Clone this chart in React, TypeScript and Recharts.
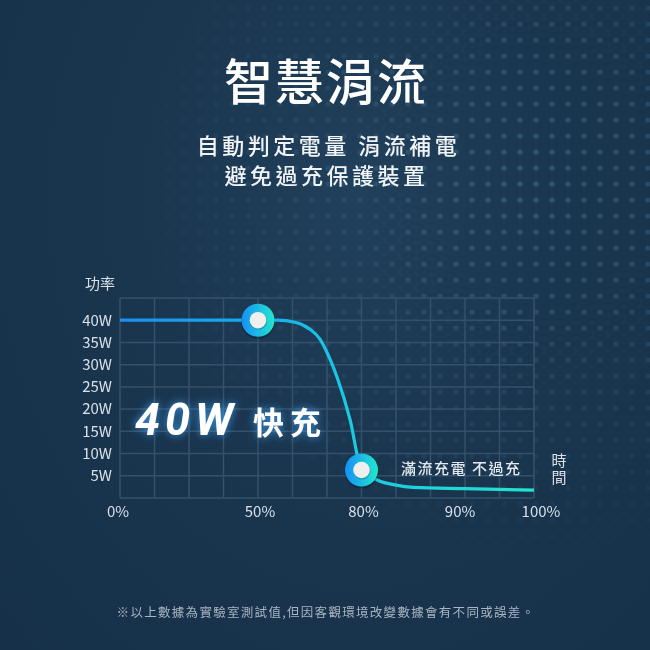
import React from 'react';
import { ComposedChart, Line, Scatter, XAxis, YAxis, CartesianGrid } from 'recharts';

// power curve (x = grid column, 0..12 ; y = watts)
const curveX = [0, 4, 4.55, 5.1, 5.5, 5.8, 6.1, 6.3, 6.67, 7, 7.47, 8, 8.5, 10, 12];
const curveW = [40, 40, 40, 39.5, 38, 35.7, 31, 27, 17.6, 6.3, 4, 2.9, 2.4, 2.1, 1.75];

// highlighted points (50% and 80%)
const markerX = [4, 7];
const markerW = [40, 6.3];

// axis ticks
const xTickPos = [0, 4, 7, 9.8, 12];
const xTickLabels = ['0%', '50%', '80%', '90%', '100%'];
const yTicks = [5, 10, 15, 20, 25, 30, 35, 40];
const gridCols = [0, 1, 2, 3, 4, 5, 6, 7, 8, 9, 10, 11, 12];
const gridRows = [0, 5, 10, 15, 20, 25, 30, 35, 40, 45];

const X_MAX = 12;
const Y_MAX = 45;

const curveData = curveX.map((x, i) => ({ x, y: curveW[i] }));
const markerData = markerX.map((x, i) => ({ x, y: markerW[i] }));

const CJK = "'Noto Sans CJK TC', 'Noto Sans', sans-serif";

const Marker = (props: any) => {
  const { cx, cy } = props;
  return (
    <g>
      <circle cx={cx} cy={cy + 1.5} r={17} fill="rgba(0,0,0,0.25)" />
      <circle cx={cx} cy={cy} r={16.5} fill="url(#dotGrad)" />
      <circle cx={cx + 0.5} cy={cy + 1} r={8.6} fill="rgba(0,0,0,0.18)" />
      <circle cx={cx} cy={cy} r={8.3} fill="#efefef" />
    </g>
  );
};

const XTick = (props: any) => {
  const { x, y, payload, index } = props;
  // last label sits a bit past the frame in the original
  const nudge = index === xTickLabels.length - 1 ? 7 : index === 0 ? -2 : 2;
  const i = xTickPos.indexOf(payload.value);
  return (
    <text x={x + nudge} y={y} dy="0.71em" textAnchor="middle" fill="#d8e0e8" fontSize={15} fontFamily={CJK}>
      {xTickLabels[i]}
    </text>
  );
};

const colCoords = ({ xAxis, offset }: any) =>
  gridCols.map((v) =>
    xAxis && typeof xAxis.scale === 'function'
      ? xAxis.scale(v)
      : offset.left + (v / X_MAX) * offset.width
  );

const rowCoords = ({ yAxis, offset }: any) =>
  gridRows.map((v) =>
    yAxis && typeof yAxis.scale === 'function'
      ? yAxis.scale(v)
      : offset.top + offset.height - (v / Y_MAX) * offset.height
  );

export default function App() {
  return (
    <div style={{
      position: 'fixed',
      top: 0,
      left: 0,
      width: 650,
      height: 650,
      overflow: 'hidden',
      background: 'radial-gradient(ellipse at 55% 30%, #21405b 0%, #1a354e 45%, #16304a 100%)'
    }}>
      {/* dotted background */}
      <svg width={650} height={650} style={{ position: 'absolute', top: 0, left: 0 }}>
        <defs>
          <pattern id="dots" width={16} height={16} patternUnits="userSpaceOnUse">
            <circle cx={8} cy={8} r={2.6} fill="#3a6688" />
          </pattern>
          <radialGradient id="fade" cx="0.8" cy="0.28" r="0.62">
            <stop offset="0%" stopColor="#fff" stopOpacity={0.7} />
            <stop offset="55%" stopColor="#fff" stopOpacity={0.3} />
            <stop offset="100%" stopColor="#fff" stopOpacity={0} />
          </radialGradient>
          <mask id="dotMask">
            <rect width={650} height={650} fill="url(#fade)" />
          </mask>
        </defs>
        <rect width={650} height={650} fill="url(#dots)" mask="url(#dotMask)" />
      </svg>

      <div style={{ position: 'absolute', top: 0, left: 0 }}>
        <ComposedChart
          width={650}
          height={650}
          margin={{ top: 298, right: 116, bottom: 122, left: 80 }}
        >
          <defs>
            <linearGradient id="lineGrad" x1="0" y1="0" x2="1" y2="0">
              <stop offset="0%" stopColor="#1b8ef0" />
              <stop offset="35%" stopColor="#15b0ec" />
              <stop offset="55%" stopColor="#1bc9e2" />
              <stop offset="100%" stopColor="#22e3cf" />
            </linearGradient>
            <linearGradient id="dotGrad" x1="0" y1="0" x2="1" y2="0">
              <stop offset="0%" stopColor="#1590f6" />
              <stop offset="100%" stopColor="#22e6cf" />
            </linearGradient>
          </defs>
          <CartesianGrid
            stroke="#34516b"
            strokeWidth={1.5}
            verticalCoordinatesGenerator={colCoords}
            horizontalCoordinatesGenerator={rowCoords}
          />
          <XAxis
            type="number"
            dataKey="x"
            domain={[0, X_MAX]}
            ticks={xTickPos}
            interval={0}
            axisLine={false}
            tickLine={false}
            height={30}
            tick={<XTick />}
          />
          <YAxis
            type="number"
            dataKey="y"
            domain={[0, Y_MAX]}
            ticks={yTicks}
            interval={0}
            axisLine={false}
            tickLine={false}
            width={40}
            tickFormatter={(v) => `${v}W`}
            tick={{ fill: '#d8e0e8', fontSize: 15, fontFamily: CJK }}
          />
          <Line
            data={curveData}
            dataKey="y"
            type="monotone"
            stroke="url(#lineGrad)"
            strokeWidth={3.2}
            dot={false}
            activeDot={false}
            isAnimationActive={false}
          />
          <Scatter
            data={markerData}
            dataKey="y"
            shape={<Marker />}
            isAnimationActive={false}
          />
        </ComposedChart>
      </div>

      {/* texts */}
      <svg width={650} height={650} style={{ position: 'absolute', top: 0, left: 0, pointerEvents: 'none' }}>
        <defs>
          <filter id="glow" x="-20%" y="-40%" width="140%" height="180%">
            <feGaussianBlur in="SourceAlpha" stdDeviation="4" result="blur" />
            <feFlood floodColor="#39a8ff" floodOpacity="0.85" />
            <feComposite in2="blur" operator="in" result="glowC" />
            <feMerge>
              <feMergeNode in="glowC" />
              <feMergeNode in="SourceGraphic" />
            </feMerge>
          </filter>
        </defs>
        <text x={326} y={99.5} textAnchor="middle" fill="#ffffff" fontSize={49} letterSpacing={2} fontFamily={CJK} fontWeight={500}>
          智慧涓流
        </text>
        <text x={328.5} y={153.5} textAnchor="middle" fill="#f1f4f7" fontSize={22} letterSpacing={3.5} fontFamily={CJK} fontWeight={500}>
          自動判定電量 涓流補電
        </text>
        <text x={326.5} y={183.5} textAnchor="middle" fill="#f1f4f7" fontSize={22} letterSpacing={3.5} fontFamily={CJK} fontWeight={500}>
          避免過充保護裝置
        </text>

        <text x={85} y={289} fill="#d8e0e8" fontSize={15} fontFamily={CJK}>功率</text>
        <text x={559} y={453} writingMode="tb" letterSpacing={2} fill="#d8e0e8" fontSize={15} fontFamily={CJK}>時間</text>

        <g filter="url(#glow)">
          <text x={135} y={435} fill="#ffffff" fontSize={45} fontStyle="italic" fontWeight={700} letterSpacing={5} fontFamily="Roboto, 'Open Sans', sans-serif">
            40W
          </text>
          <text x={253} y={434} fill="#ffffff" fontSize={31} fontWeight={700} letterSpacing={6} fontFamily={CJK}>
            快充
          </text>
        </g>

        <text x={401} y={473.5} fill="#e2e8ee" fontSize={15} letterSpacing={1.5} fontFamily={CJK} fontWeight={500}>
          滿流充電 不過充
        </text>

        <text x={326} y={616.5} textAnchor="middle" fill="#a9b5c2" fontSize={12.5} letterSpacing={1.3} fontFamily={CJK}>
          ※以上數據為實驗室測試值,但因客觀環境改變數據會有不同或誤差。
        </text>
      </svg>
    </div>
  );
}
